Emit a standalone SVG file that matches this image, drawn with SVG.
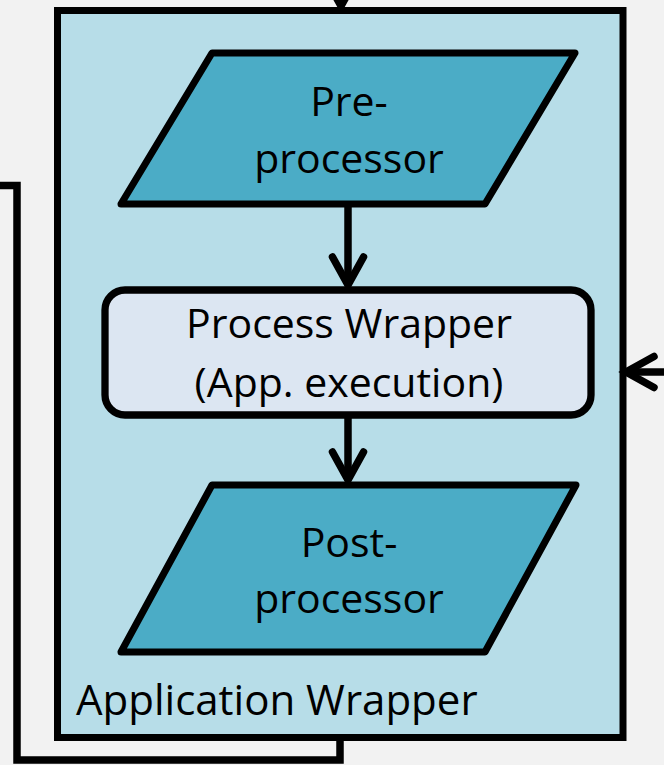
<svg xmlns="http://www.w3.org/2000/svg" width="664" height="765" viewBox="0 0 664 765">
<style>
.t{font-family:"Open Sans","Noto Sans","Liberation Sans",sans-serif;font-size:41px;fill:#000;text-anchor:middle}
.lbl{font-family:"Open Sans","Noto Sans","Liberation Sans",sans-serif;font-size:42px;fill:#000}
.ln{fill:none;stroke:#000;stroke-width:7.5}
.para{fill:#4BACC6;stroke:#000;stroke-width:7;stroke-linejoin:round}
</style>
<defs>
<marker id="chev" markerUnits="userSpaceOnUse" viewBox="-40 -30 50 60" markerWidth="50" markerHeight="60" refX="0" refY="0" orient="auto" overflow="visible">
<path d="M-28,-15.5 L0,0 L-28,15.5" fill="none" stroke="#000" stroke-width="7.5" stroke-linecap="round" stroke-linejoin="miter"/>
</marker>
</defs>
<rect x="0" y="0" width="664" height="765" fill="#F2F2F2"/>
<g id="application-wrapper">
<rect x="57.5" y="10.5" width="565.5" height="727" fill="#B7DDE8" stroke="#000" stroke-width="7"/>
<text class="lbl" x="76" y="715">Application Wrapper</text>
</g>
<g id="connectors">
<line class="ln" x1="341" y1="-40" x2="341" y2="6" marker-end="url(#chev)"/>
<line class="ln" x1="348" y1="206" x2="348" y2="285" marker-end="url(#chev)"/>
<line class="ln" x1="348" y1="418" x2="348" y2="480" marker-end="url(#chev)"/>
<line class="ln" x1="700" y1="372" x2="626" y2="372" marker-end="url(#chev)"/>
<polyline class="ln" points="-10,185.5 17,185.5 17,760 340,760 340,737" stroke-linejoin="miter"/>
</g>
<g id="pre-processor">
<polygon class="para" points="212,53 575,53 485,204 121,204"/>
<text class="t" x="349" y="116">Pre-</text>
<text class="t" x="349" y="173">processor</text>
</g>
<g id="process-wrapper">
<rect x="105" y="290" width="486" height="125" rx="20" ry="20" fill="#DCE6F2" stroke="#000" stroke-width="7.3"/>
<text class="t" x="349" y="338">Process Wrapper</text>
<text class="t" x="349" y="397">(App. execution)</text>
</g>
<g id="post-processor">
<polygon class="para" points="212,485 576,485 485,652 121,652"/>
<text class="t" x="349" y="557">Post-</text>
<text class="t" x="349" y="613">processor</text>
</g>
</svg>
